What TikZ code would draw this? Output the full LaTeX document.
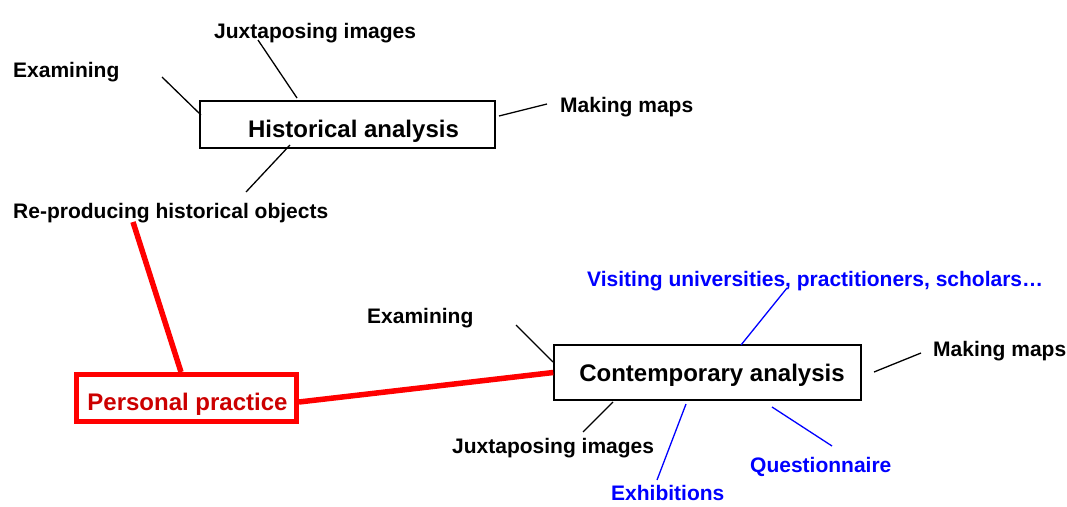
\documentclass[tikz,border=0pt]{standalone}
\usepackage{fontspec}
\setmainfont{Liberation Sans}
\definecolor{pred}{RGB}{255,0,0}
\definecolor{ptext}{RGB}{204,0,0}
\definecolor{pblue}{RGB}{0,0,255}
\begin{document}
\begin{tikzpicture}[x=1pt,y=-1pt,
  lbl/.style={inner sep=0pt,anchor=base west,font=\fontsize{21}{25}\selectfont\bfseries},
  bluelbl/.style={lbl,text=pblue},
  mainbox/.style={draw=black,line width=1.5pt,inner sep=0pt,font=\fontsize{24}{28}\selectfont\bfseries},
  conn/.style={draw=black,line width=1.3pt},
  bconn/.style={draw=pblue,line width=1.3pt},
  rconn/.style={draw=pred,line width=5.5pt}]
\useasboundingbox (0,0) rectangle (1067,506);
% Historical analysis cluster
\node[mainbox,minimum width=295pt,minimum height=47pt,text height=27pt,text depth=2pt] (hist) at (347.5,124.5) {\hspace{12pt}Historical analysis};
\node[lbl] (hjux) at (214,38) {Juxtaposing images};
\node[lbl] (hexa) at (13,77) {Examining};
\node[lbl] (hmap) at (560,112) {Making maps};
\node[lbl] (hrep) at (13,218) {Re-producing historical objects};
\coordinate (hj1) at (258,40); \coordinate (hj2) at (297,98);
\coordinate (he1) at (162,77); \coordinate (he2) at (201,115);
\coordinate (hm1) at (499,116); \coordinate (hm2) at (547,104);
\coordinate (hr1) at (290,145); \coordinate (hr2) at (246,192);
\draw[conn] (hj1) -- (hj2);
\draw[conn] (he1) -- (he2);
\draw[conn] (hm1) -- (hm2);
\draw[conn] (hr1) -- (hr2);
% Personal practice
\node[draw=pred,line width=5pt,inner sep=0pt,minimum width=220pt,minimum height=47pt,text height=26pt,text depth=2pt,text=ptext,font=\fontsize{24}{28}\selectfont\bfseries] (pp) at (186.5,398) {\hspace{2pt}Personal practice};
% Contemporary analysis cluster
\node[mainbox,minimum width=307pt,minimum height=55pt,text height=19pt,text depth=2pt] (cont) at (707.5,372.5) {\hspace{9pt}Contemporary analysis};
\node[lbl] (cexa) at (367,323) {Examining};
\node[bluelbl] (cvis) at (587,286) {Visiting universities, practitioners, scholars\ldots};
\node[lbl] (cmap) at (933,356) {Making maps};
\node[lbl] (cjux) at (452,453) {Juxtaposing images};
\node[bluelbl] (cque) at (750,472) {Questionnaire};
\node[bluelbl] (cexh) at (611,500) {Exhibitions};
\coordinate (ce1) at (516,325); \coordinate (ce2) at (553,362);
\coordinate (cv1) at (741,345); \coordinate (cv2) at (787,288);
\coordinate (cm1) at (874,372); \coordinate (cm2) at (921,353);
\coordinate (cj1) at (613,402); \coordinate (cj2) at (583,432);
\coordinate (cx1) at (686,404); \coordinate (cx2) at (657,480);
\coordinate (cq1) at (772,407); \coordinate (cq2) at (832,446);
\draw[conn] (ce1) -- (ce2);
\draw[bconn] (cv1) -- (cv2);
\draw[conn] (cm1) -- (cm2);
\draw[conn] (cj1) -- (cj2);
\draw[bconn] (cx1) -- (cx2);
\draw[bconn] (cq1) -- (cq2);
% red connectors
\coordinate (r1) at (133,222);
\draw[rconn] (r1) -- (pp.north -| 181,0);
\draw[rconn] ([yshift=-4pt]pp.east) -- (cont.west);
\end{tikzpicture}
\end{document}
